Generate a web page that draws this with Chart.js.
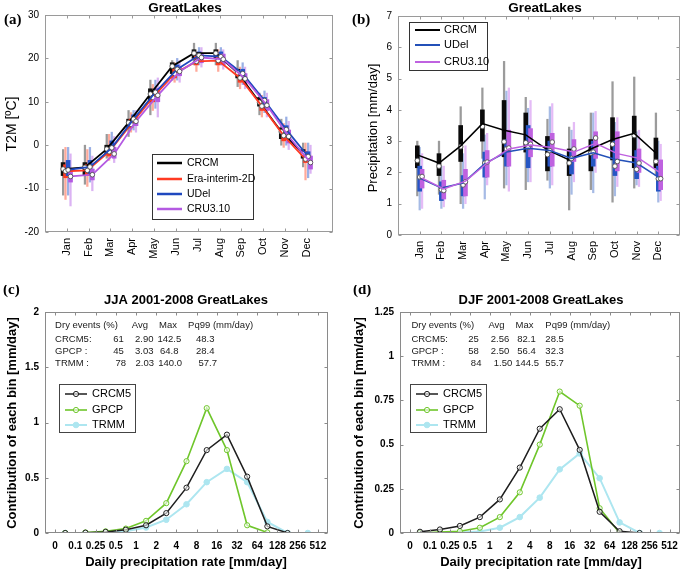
<!DOCTYPE html>
<html><head><meta charset="utf-8">
<script src="https://cdn.jsdelivr.net/npm/chart.js@4.4.1/dist/chart.umd.min.js"></script>
<style>
html,body{margin:0;padding:0;background:#fff;}
#wrap{position:relative;width:685px;height:572px;overflow:hidden;background:#fff;}
canvas{position:absolute;}
</style></head><body>
<div id="wrap">
<canvas id="ca" style="left:0px;top:0px" width="342" height="285"></canvas>
<canvas id="cb" style="left:342px;top:0px" width="343" height="285"></canvas>
<canvas id="cc" style="left:0px;top:285px" width="342" height="287"></canvas>
<canvas id="cd" style="left:342px;top:285px" width="343" height="287"></canvas>
</div>
<script>
// ================= DATA =================
const months = ['Jan','Feb','Mar','Apr','May','Jun','Jul','Aug','Sep','Oct','Nov','Dec'];

// (a) T2M [ºC] GreatLakes
const t2mNames = ['CRCM','Era-interim-2D','UDel','CRU3.10'];
const t2mCrcmMean  = [-5.5, -5.1, -0.9, 5.2, 11.8, 18.2, 21.2, 21.2, 16.7, 9.9, 3.1, -1.9];
const t2mCrcmBoxLo = [-7.0, -7.0, -2.0, 4.0, 10.0, 16.5, 20.0, 20.0, 15.5, 9.0, 1.5, -3.0];
const t2mCrcmBoxHi = [-4.0, -4.0, 0.0, 6.0, 13.0, 19.0, 22.0, 22.0, 17.5, 11.0, 4.0, -1.0];
const t2mCrcmWhLo  = [-11.5, -9.0, -3.0, 2.0, 7.0, 15.0, 18.5, 18.5, 13.5, 7.0, 0.0, -5.0];
const t2mCrcmWhHi  = [-1.0, 0.0, 2.5, 8.0, 15.0, 19.5, 23.5, 23.5, 19.5, 12.0, 6.0, 0.5];

const t2mEraMean  = [-6.0, -5.8, -1.5, 4.8, 11.0, 16.5, 19.3, 19.5, 15.5, 9.0, 2.2, -3.2];
const t2mEraBoxLo = [-7.5, -7.0, -2.5, 4.0, 10.0, 15.5, 18.5, 18.5, 14.5, 8.0, 1.0, -4.0];
const t2mEraBoxHi = [-4.5, -4.5, -0.5, 6.0, 12.0, 17.5, 20.5, 20.5, 16.5, 10.0, 3.5, -1.5];
const t2mEraWhLo  = [-12.5, -9.5, -3.5, 3.0, 8.0, 14.5, 17.0, 17.0, 13.0, 6.5, -0.5, -8.0];
const t2mEraWhHi  = [-0.5, -1.0, 2.5, 7.5, 14.0, 19.0, 21.5, 22.0, 18.0, 11.5, 5.0, 0.5];

const t2mUdelMean  = [-5.7, -5.0, -0.6, 6.0, 12.2, 17.5, 20.7, 20.4, 16.5, 10.3, 3.6, -2.6];
const t2mUdelBoxLo = [-7.0, -6.5, -1.5, 5.0, 11.0, 16.5, 19.5, 19.5, 15.5, 9.0, 2.5, -3.5];
const t2mUdelBoxHi = [-3.5, -3.5, 1.0, 7.0, 13.0, 18.5, 21.5, 21.5, 17.5, 11.0, 4.5, -1.5];
const t2mUdelWhLo  = [-11.5, -8.5, -2.5, 3.5, 8.5, 15.0, 18.5, 18.5, 14.0, 7.5, 0.0, -7.5];
const t2mUdelWhHi  = [-0.5, -0.5, 3.0, 8.0, 15.0, 20.0, 22.5, 22.5, 19.0, 12.5, 6.5, 0.5];

const t2mCruMean  = [-7.2, -6.8, -2.0, 5.5, 11.5, 17.0, 20.2, 19.8, 15.3, 9.2, 2.0, -4.0];
const t2mCruBoxLo = [-8.5, -8.0, -3.0, 4.5, 10.0, 16.0, 19.0, 18.5, 14.0, 8.0, 0.5, -5.5];
const t2mCruBoxHi = [-5.5, -5.5, -0.5, 6.5, 13.0, 18.0, 21.0, 21.0, 16.5, 10.5, 3.5, -2.5];
const t2mCruWhLo  = [-14.0, -10.5, -4.0, 3.0, 6.5, 14.5, 18.0, 17.5, 13.0, 6.5, -1.0, -6.5];
const t2mCruWhHi  = [-2.0, -2.5, 2.0, 8.0, 15.5, 19.5, 22.5, 22.0, 18.0, 12.0, 5.5, 0.0];

// (b) Precipitation [mm/day] GreatLakes
const prNames = ['CRCM','UDel','CRU3.10'];
const prCrcmMean  = [2.56, 2.30, 2.85, 3.56, 3.35, 3.20, 2.72, 2.40, 2.75, 3.05, 3.25, 2.62];
const prCrcmMed   = [2.38, 2.20, 2.82, 3.47, 2.98, 2.95, 2.57, 2.30, 2.62, 2.90, 3.18, 2.35];
const prCrcmBoxLo = [2.15, 1.90, 2.35, 3.00, 2.50, 2.65, 2.05, 1.90, 2.05, 2.40, 2.15, 2.15];
const prCrcmBoxHi = [2.85, 2.60, 3.50, 4.00, 4.30, 3.90, 3.15, 2.75, 3.05, 3.75, 3.80, 3.10];
const prCrcmWhLo  = [1.25, 1.30, 1.00, 2.45, 1.50, 1.45, 1.75, 0.80, 1.45, 1.05, 1.50, 1.90];
const prCrcmWhHi  = [3.00, 3.00, 4.10, 4.70, 5.55, 4.40, 3.70, 3.45, 3.90, 4.90, 5.05, 3.90];

const prUdelMean  = [1.82, 1.50, 1.66, 2.28, 2.65, 2.77, 2.70, 2.45, 2.63, 2.42, 2.30, 1.85];
const prUdelMed   = [1.85, 1.45, 1.60, 2.30, 2.75, 2.80, 2.70, 2.45, 2.65, 2.20, 2.10, 1.80];
const prUdelBoxLo = [1.40, 1.10, 1.25, 1.85, 2.20, 2.15, 2.20, 1.95, 2.20, 1.90, 1.80, 1.40];
const prUdelBoxHi = [2.20, 1.70, 1.90, 2.65, 3.05, 3.50, 3.00, 2.65, 3.00, 3.00, 2.70, 2.20];
const prUdelWhLo  = [0.80, 0.85, 0.85, 1.15, 1.60, 1.70, 1.50, 1.30, 1.35, 1.25, 1.60, 1.05];
const prUdelWhHi  = [2.80, 2.20, 2.60, 3.20, 4.60, 4.05, 4.10, 3.35, 3.90, 3.60, 3.30, 3.00];

const prCruMean  = [1.82, 1.47, 1.72, 2.30, 2.75, 2.88, 2.80, 2.65, 2.93, 2.60, 2.45, 1.98];
const prCruMed   = [1.87, 1.42, 1.70, 2.33, 2.78, 2.90, 2.97, 2.75, 3.10, 2.35, 2.30, 1.80];
const prCruBoxLo = [1.50, 1.15, 1.25, 1.85, 2.20, 2.50, 2.20, 2.35, 2.45, 2.05, 2.00, 1.45];
const prCruBoxHi = [2.10, 1.75, 2.10, 2.70, 3.35, 3.40, 3.25, 3.05, 3.30, 3.30, 2.75, 2.40];
const prCruWhLo  = [0.85, 0.90, 1.00, 1.60, 1.40, 1.70, 1.60, 1.70, 2.00, 1.55, 1.55, 1.10];
const prCruWhHi  = [2.60, 2.20, 2.85, 3.25, 4.70, 4.30, 4.20, 3.60, 3.95, 3.75, 3.35, 2.90];

// (c)/(d) contribution of each bin [mm/day]
const binLabels = ['0','0.1','0.25','0.5','1','2','4','8','16','32','64','128','256','512'];
const pdfNames = ['CRCM5','GPCP','TRMM'];
const jjaCrcm5 = [0.0, 0.003, 0.01, 0.03, 0.07, 0.18, 0.41, 0.75, 0.89, 0.51, 0.06, 0.0, null];
const jjaGpcp  = [0.0, 0.005, 0.015, 0.04, 0.11, 0.27, 0.65, 1.13, 0.75, 0.07, 0.005, null, null];
const jjaTrmm  = [0.0, 0.0, 0.003, 0.015, 0.05, 0.12, 0.26, 0.46, 0.58, 0.46, 0.10, 0.0, 0.0];
const djfCrcm5 = [0.007, 0.02, 0.04, 0.09, 0.19, 0.37, 0.59, 0.70, 0.47, 0.12, 0.01, 0.0, null];
const djfGpcp  = [0.0, 0.005, 0.01, 0.03, 0.09, 0.23, 0.50, 0.80, 0.72, 0.14, 0.0, null, null];
const djfTrmm  = [0.0, 0.0, 0.003, 0.008, 0.03, 0.09, 0.20, 0.36, 0.45, 0.31, 0.06, 0.0, 0.0];

const statHeader = ['Dry events (%)', 'Avg', 'Max', 'Pq99 (mm/day)'];
const jjaStats = [['CRCM5:', '61', '2.90', '142.5', '48.3'],
                  ['GPCP :', '45', '3.03', '64.8', '28.4'],
                  ['TRMM :', '78', '2.03', '140.0', '57.7']];
const djfStats = [['CRCM5:', '25', '2.56', '82.1', '28.5'],
                  ['GPCP :', '58', '2.50', '56.4', '32.3'],
                  ['TRMM :', '84', '1.50', '144.5', '55.7']];

// ================= PLUGINS =================
const SANS = '"Liberation Sans", Arial, Helvetica, sans-serif';
const SERIF = '"Liberation Serif", "Times New Roman", serif';
Chart.defaults.font.family = SANS;
Chart.defaults.color = '#000';

const framePlugin = {
  id: 'frame',
  afterDraw(chart, args, o) {
    if (!o || !o.color) return;
    const {ctx, chartArea: a, scales} = chart;
    ctx.save();
    ctx.strokeStyle = o.color; ctx.lineWidth = 1;
    const L = Math.round(a.left) + 0.5, R = Math.round(a.right) - 0.5;
    const T = Math.round(a.top) + 0.5, B = Math.round(a.bottom) - 0.5;
    ctx.strokeRect(L, T, R - L, B - T);
    const len = o.tick;
    ctx.beginPath();
    scales.x.ticks.forEach(t => {
      const px = Math.round(scales.x.getPixelForValue(t.value)) + 0.5;
      ctx.moveTo(px, B); ctx.lineTo(px, B - len);
      ctx.moveTo(px, T); ctx.lineTo(px, T + len);
    });
    scales.y.ticks.forEach(t => {
      const py = Math.round(scales.y.getPixelForValue(t.value)) + 0.5;
      ctx.moveTo(L, py); ctx.lineTo(L + len, py);
      ctx.moveTo(R, py); ctx.lineTo(R - len, py);
    });
    ctx.stroke();
    ctx.restore();
  }
};

const textPlugin = {
  id: 'texts',
  afterDraw(chart, args, o) {
    if (!o || !o.items) return;
    const ctx = chart.ctx, ox = o.origin[0], oy = o.origin[1];
    o.items.forEach(t => {
      ctx.save();
      ctx.font = t.font; ctx.fillStyle = t.color || '#000';
      ctx.textAlign = t.align || 'center'; ctx.textBaseline = 'middle';
      ctx.translate(t.x - ox, t.y - oy);
      if (t.rotate) ctx.rotate(t.rotate * Math.PI / 180);
      ctx.fillText(t.text, 0, 0);
      ctx.restore();
    });
  }
};

const tablePlugin = {
  id: 'statTable',
  afterDraw(chart, args, o) {
    if (!o || !o.rows) return;
    const {ctx, scales: {x, y}} = chart;
    ctx.save();
    ctx.font = o.font; ctx.fillStyle = '#1a1a1a';
    ctx.textBaseline = 'middle'; ctx.textAlign = 'left';
    o.rows.forEach((row, r) => row.forEach((cell, c) => {
      ctx.fillText(cell, x.getPixelForValue(o.cols[r][c]), y.getPixelForValue(o.rowY[r]));
    }));
    ctx.restore();
  }
};

const legendBox = {
  id: 'legendBox',
  afterDraw(chart, args, o) {
    if (!o || !o.items) return;
    const ctx = chart.ctx, ox = o.origin[0], oy = o.origin[1];
    const x = o.box[0] - ox, y = o.box[1] - oy, w = o.box[2], h = o.box[3];
    ctx.save();
    ctx.fillStyle = '#fff'; ctx.fillRect(x, y, w, h);
    ctx.strokeStyle = o.border; ctx.lineWidth = 1;
    ctx.strokeRect(Math.round(x) + 0.5, Math.round(y) + 0.5, w, h);
    o.items.forEach(it => {
      const ds = chart.data.datasets[it.ds];
      const yy = it.y - oy;
      ctx.strokeStyle = ds.borderColor; ctx.lineWidth = o.lineWidth || ds.borderWidth;
      ctx.beginPath(); ctx.moveTo(o.line[0] - ox, yy); ctx.lineTo(o.line[1] - ox, yy); ctx.stroke();
      if (o.marker) {
        ctx.beginPath();
        ctx.arc((o.line[0] + o.line[1]) / 2 - ox, yy, ds.pointRadius, 0, 2 * Math.PI);
        ctx.fillStyle = ds.pointBackgroundColor; ctx.fill();
        ctx.lineWidth = ds.pointBorderWidth || 1; ctx.strokeStyle = ds.pointBorderColor; ctx.stroke();
      }
      ctx.fillStyle = '#000'; ctx.font = o.font; ctx.textBaseline = 'middle'; ctx.textAlign = 'left';
      ctx.fillText(ds.label, o.textX - ox, yy);
    });
    ctx.restore();
  }
};

Chart.register(framePlugin, textPlugin, tablePlugin, legendBox);

// ================= HELPERS =================
function boxSeries(label, mean, med, boxLo, boxHi, whLo, whHi, off, col, boxCol, whCol, lineW, boxW, ord) {
  const xs = mean.map((_, i) => i + 1 + off);
  const out = [];
  out.push({ type: 'line', label: label, data: xs.map((x, i) => ({x: x, y: mean[i]})),
    borderColor: col, borderWidth: lineW,
    pointRadius: med ? 0 : 2.3, pointBackgroundColor: '#fff', pointBorderColor: '#444', pointBorderWidth: 0.8,
    order: ord });
  if (med) {
    out.push({ type: 'line', label: label + ' median', showLine: false,
      data: xs.map((x, i) => ({x: x, y: med[i]})),
      pointRadius: 2.3, pointBackgroundColor: '#fff', pointBorderColor: '#555', pointBorderWidth: 0.9,
      borderColor: col, order: ord });
  }
  out.push({ type: 'bar', label: label + ' IQR', data: xs.map((x, i) => ({x: x, y: [boxLo[i], boxHi[i]]})),
    backgroundColor: boxCol, barThickness: boxW, grouped: false, borderWidth: 0, order: 20 + ord });
  out.push({ type: 'bar', label: label + ' range', data: xs.map((x, i) => ({x: x, y: [whLo[i], whHi[i]]})),
    backgroundColor: whCol, barThickness: 1.6, grouped: false, borderWidth: 0, order: 40 + ord });
  return out;
}

function pdfSeries(label, vals, col, lw, r, bg, ord) {
  const data = [];
  vals.forEach((v, i) => { if (v !== null) data.push({x: i + 0.5, y: v}); });
  return { type: 'line', label: label, data: data, borderColor: col, borderWidth: lw,
    pointRadius: r, pointBackgroundColor: bg, pointBorderColor: col, pointBorderWidth: 1,
    pointHoverRadius: r, order: ord };
}

function baseOptions(cfg) {
  return {
    responsive: false, animation: false, maintainAspectRatio: false,
    layout: { padding: cfg.padding },
    events: [],
    scales: {
      x: { type: 'linear', min: cfg.xmin, max: cfg.xmax, offset: false,
        grid: { display: false, drawTicks: false, offset: false }, border: { display: false },
        afterBuildTicks: s => { s.ticks = cfg.xticks.map(v => ({value: v})); },
        afterFit: s => { s.height = cfg.xh; },
        ticks: { autoSkip: false, minRotation: cfg.rot, maxRotation: cfg.rot, padding: cfg.xpad,
          font: cfg.xfont, color: '#000', callback: cfg.xcb } },
      y: { type: 'linear', min: cfg.ymin, max: cfg.ymax, beginAtZero: false,
        grid: { display: false, drawTicks: false }, border: { display: false },
        afterFit: s => { s.width = cfg.yw; },
        ticks: { stepSize: cfg.ystep, padding: cfg.ypad, font: cfg.yfont, color: '#000',
          callback: cfg.ycb } }
    },
    plugins: {
      legend: { display: false }, tooltip: { enabled: false }, title: { display: false },
      frame: { color: cfg.frame, tick: 3 },
      texts: { origin: cfg.origin, items: cfg.texts },
      legendBox: cfg.legend,
      statTable: cfg.table || {}
    }
  };
}

const monthTicks = months.map((m, i) => i + 1);
const monthCb = v => months[v - 1] || '';
const binTicks = binLabels.map((b, i) => i);
const binCb = v => binLabels[v];

// ================= (a) =================
{
  const ds = [].concat(
    boxSeries(t2mNames[0], t2mCrcmMean, null, t2mCrcmBoxLo, t2mCrcmBoxHi, t2mCrcmWhLo, t2mCrcmWhHi, -0.17, '#000000', '#111111', 'rgba(120,120,120,0.75)', 1.8, 4, 3),
    boxSeries(t2mNames[1], t2mEraMean, null, t2mEraBoxLo, t2mEraBoxHi, t2mEraWhLo, t2mEraWhHi, -0.06, '#ff3a22', '#ff3a22', 'rgba(255,140,120,0.75)', 1.8, 4, 2),
    boxSeries(t2mNames[2], t2mUdelMean, null, t2mUdelBoxLo, t2mUdelBoxHi, t2mUdelWhLo, t2mUdelWhHi, 0.06, '#1f48bf', '#2452c8', 'rgba(120,150,220,0.75)', 1.8, 4, 1),
    boxSeries(t2mNames[3], t2mCruMean, null, t2mCruBoxLo, t2mCruBoxHi, t2mCruWhLo, t2mCruWhHi, 0.17, '#b45ae2', '#b45ae2', 'rgba(210,160,240,0.8)', 1.8, 4, 0)
  );
  const idx = t2mNames.map(n => ds.findIndex(d => d.label === n));
  new Chart(document.getElementById('ca'), {
    type: 'bar',
    data: { datasets: ds },
    options: baseOptions({
      padding: {top: 15, right: 9, left: 0, bottom: 0},
      xmin: 0, xmax: 13.2, xticks: monthTicks, xcb: monthCb, rot: 90, xh: 53, xpad: 6,
      xfont: {size: 11}, ymin: -20, ymax: 30, ystep: 10, yw: 45, ypad: 6, yfont: {size: 10},
      frame: '#9a9a9a', origin: [0, 0],
      texts: [
        {text: 'GreatLakes', x: 185, y: 8, font: 'bold 13.5px ' + SANS},
        {text: '(a)', x: 4, y: 20, font: 'bold 15px ' + SERIF, align: 'left'},
        {text: 'T2M [ºC]', x: 12, y: 124, font: '14px ' + SANS, rotate: -90}
      ],
      legend: { origin: [0, 0], box: [152, 154, 101, 65], border: '#333', line: [157, 182], textX: 187,
        lineWidth: 2.5, font: '10.5px ' + SANS,
        items: [{ds: idx[0], y: 163}, {ds: idx[1], y: 179}, {ds: idx[2], y: 194}, {ds: idx[3], y: 209}] }
    })
  });
}

// ================= (b) =================
{
  const ds = [].concat(
    boxSeries(prNames[0], prCrcmMean, prCrcmMed, prCrcmBoxLo, prCrcmBoxHi, prCrcmWhLo, prCrcmWhHi, -0.11, '#000000', '#0a0a0a', 'rgba(130,130,130,0.8)', 1.5, 4, 2),
    boxSeries(prNames[1], prUdelMean, prUdelMed, prUdelBoxLo, prUdelBoxHi, prUdelWhLo, prUdelWhHi, 0.0, '#2350b8', '#2656c4', 'rgba(150,175,225,0.85)', 1.5, 4, 1),
    boxSeries(prNames[2], prCruMean, prCruMed, prCruBoxLo, prCruBoxHi, prCruWhLo, prCruWhHi, 0.11, '#bf62e0', '#bf62e0', 'rgba(225,180,245,0.9)', 1.5, 4, 0)
  );
  const idx = prNames.map(n => ds.findIndex(d => d.label === n));
  new Chart(document.getElementById('cb'), {
    type: 'bar',
    data: { datasets: ds },
    options: baseOptions({
      padding: {top: 16, right: 5, left: 0, bottom: 0},
      xmin: 0, xmax: 13, xticks: monthTicks, xcb: monthCb, rot: 90, xh: 50, xpad: 6,
      xfont: {size: 11}, ymin: 0, ymax: 7, ystep: 1, yw: 56, ypad: 6, yfont: {size: 10},
      frame: '#9a9a9a', origin: [342, 0],
      texts: [
        {text: 'GreatLakes', x: 545, y: 8, font: 'bold 13.5px ' + SANS},
        {text: '(b)', x: 352, y: 20, font: 'bold 15px ' + SERIF, align: 'left'},
        {text: 'Precipitation [mm/day]', x: 373, y: 128, font: '13px ' + SANS, rotate: -90}
      ],
      legend: { origin: [342, 0], box: [409, 22, 78, 48], border: '#333', line: [415, 440], textX: 444,
        lineWidth: 2, font: '11px ' + SANS,
        items: [{ds: idx[0], y: 30}, {ds: idx[1], y: 45}, {ds: idx[2], y: 62}] }
    })
  });
}

// ================= (c) & (d) =================
function pdfChart(id, origin, crcm, gpcp, trmm, ymax, ystep, ycb, yw, padRight, title, tag, tagX, ytitleX, titleX, legendX, stats, statCols, statY) {
  const ds = [
    pdfSeries(pdfNames[0], crcm, '#1e1e1e', 1.5, 2.6, 'rgba(255,255,255,0.6)', 0),
    pdfSeries(pdfNames[1], gpcp, '#6fc62b', 1.6, 2.6, 'rgba(255,255,255,0.6)', 1),
    pdfSeries(pdfNames[2], trmm, '#ade6f0', 2.0, 2.8, '#ade6f0', 2)
  ];
  new Chart(document.getElementById(id), {
    type: 'line',
    data: { datasets: ds },
    options: baseOptions({
      padding: {top: 27, right: padRight, left: 0, bottom: 0},
      xmin: -0.5, xmax: 13.5, xticks: binTicks, xcb: binCb, rot: 0, xh: 39, xpad: 7,
      xfont: {size: 10, weight: 'bold'}, ymin: 0, ymax: ymax, ystep: ystep, ycb: ycb, yw: yw, ypad: 6,
      yfont: {size: 10, weight: 'bold'},
      frame: '#8a8a8a', origin: origin,
      texts: [
        {text: title, x: titleX, y: 300, font: 'bold 13px ' + SANS},
        {text: tag, x: tagX, y: 290, font: 'bold 15px ' + SERIF, align: 'left'},
        {text: 'Contribution of each bin [mm/day]', x: ytitleX, y: 423, font: 'bold 13px ' + SANS, rotate: -90},
        {text: 'Daily precipitation rate [mm/day]', x: titleX, y: 562, font: 'bold 13px ' + SANS}
      ],
      legend: { origin: origin, box: [legendX, 384, 76, 48], border: '#444', line: [legendX + 6, legendX + 28],
        textX: legendX + 33, marker: true, font: '11px ' + SANS,
        items: [{ds: 0, y: 394}, {ds: 1, y: 410}, {ds: 2, y: 425}] },
      table: { font: '9.5px ' + SANS, rows: [statHeader].concat(stats), cols: statCols, rowY: statY }
    })
  });
}

const fmtC = v => (v === 0 ? '0' : String(v));
pdfChart('cc', [0, 285], jjaCrcm5, jjaGpcp, jjaTrmm, 2, 0.5, fmtC, 45, 14,
  'JJA 2001-2008 GreatLakes', '(c)', 3, 12, 186, 59,
  jjaStats,
  [[0.0, 3.79, 5.14, 6.58], [0.0, 2.88, 3.95, 5.06, 6.97], [0.0, 2.88, 3.95, 5.19, 6.97], [0.0, 2.99, 3.98, 5.1, 7.09]],
  [1.88, 1.755, 1.645, 1.535]);
pdfChart('cd', [342, 285], djfCrcm5, djfGpcp, djfTrmm, 1.25, 0.25, fmtC, 58, 3,
  'DJF 2001-2008 GreatLakes', '(d)', 353, 359, 541, 410,
  djfStats,
  [[0.07, 3.93, 5.29, 6.78], [0.07, 2.92, 4.05, 5.37, 6.78], [0.07, 2.92, 4.05, 5.37, 6.78], [0.07, 3.05, 4.2, 5.27, 6.78]],
  [1.176, 1.097, 1.029, 0.962]);
</script>
</body></html>
